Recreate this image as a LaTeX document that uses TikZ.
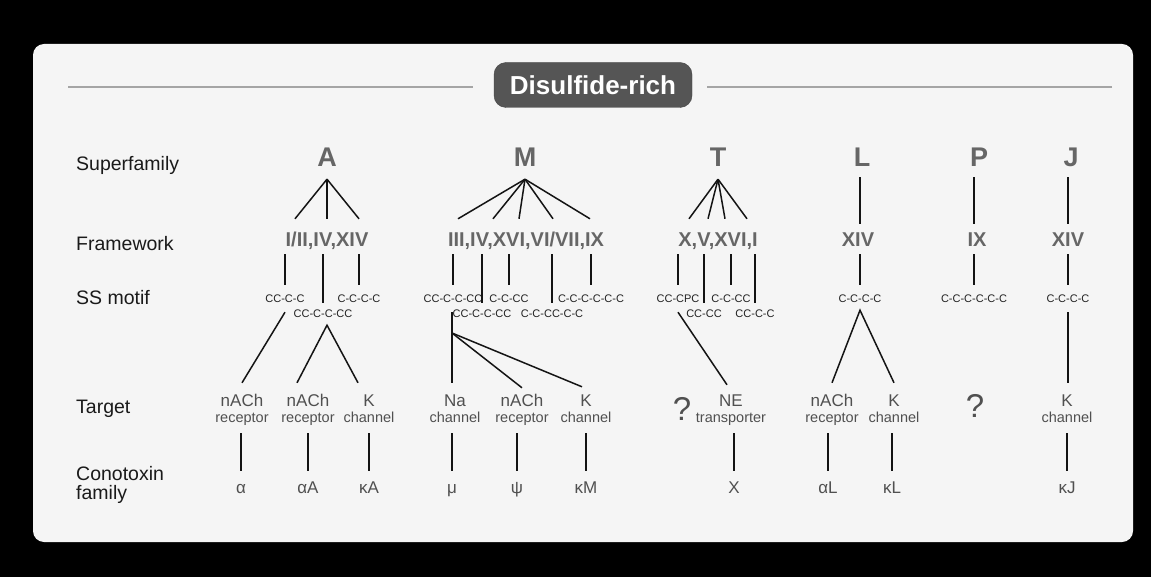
\documentclass[tikz,border=0pt]{standalone}
\usepackage{fontspec}
\setmainfont{Liberation Sans}
\usetikzlibrary{calc}
\definecolor{panelgray}{RGB}{245,245,245}
\definecolor{pillgray}{RGB}{85,85,85}
\definecolor{rulegray}{RGB}{165,165,165}
\definecolor{supgray}{RGB}{102,102,102}
\definecolor{tgtgray}{RGB}{80,80,80}
\definecolor{motifink}{RGB}{34,34,34}
\definecolor{labelink}{RGB}{26,26,26}
\definecolor{wireink}{RGB}{20,20,20}
\newcommand{\pxfont}[1]{\fontsize{#1}{#1}\selectfont}

\begin{document}
\begin{tikzpicture}[x=1pt, y=-1pt,
    every node/.style={inner sep=0pt},
    rowlabel/.style={anchor=base west, font=\pxfont{19.5}, text=labelink},
    superfam/.style={anchor=base, font=\bfseries\pxfont{27}, text=supgray, text depth=12pt},
    framework/.style={anchor=base, font=\bfseries\pxfont{20}, text=supgray, text height=28pt, text depth=7pt},
    motif/.style={anchor=base, font=\pxfont{11}, text=motifink, text height=17pt, text depth=10pt},
    motiflow/.style={motif, text height=14pt, text depth=8pt},
    target/.style={anchor=base, font=\pxfont{17}, text=tgtgray, text height=23pt},
    targetsub/.style={anchor=base, font=\pxfont{14.5}, text=tgtgray, text depth=10.5pt},
    unknown/.style={anchor=base, font=\pxfont{33}, text=tgtgray},
    family/.style={anchor=base, font=\pxfont{17}, text=tgtgray, text height=22pt},
    wire/.style={draw=wireink, line width=1.5pt},
    rule/.style={draw=rulegray, line width=1.3pt},
    pill/.style={fill=pillgray, draw=pillgray!80!black, rounded corners=12pt, text=white,
      font=\bfseries\pxfont{26}, minimum width=198pt, minimum height=45pt}]

  % background and panel
  \fill[black] (0,0) rectangle (1151,577);
  \useasboundingbox (0,0) rectangle (1151,577);
  \fill[panelgray, rounded corners=11pt] (33,44) rectangle (1133,542);

  % title
  \node[pill] (title) at (593,85) {Disulfide-rich};
  \coordinate (ruleL) at (68,87);
  \coordinate (ruleR) at (1112,87);
  \draw[rule, shorten >=21pt] (ruleL) -- (ruleL -| title.west);
  \draw[rule, shorten >=15pt] (ruleR) -- (ruleR -| title.east);

  % row labels
  \node[rowlabel] (lsup) at (76,171) {Superfamily};
  \node[rowlabel] (lfw) at (76,251) {Framework};
  \node[rowlabel] (lss) at (76,305) {SS motif};
  \node[rowlabel] (ltgt) at (76,413) {Target};
  \node[rowlabel, anchor=north west, align=left, font=\fontsize{19.5}{19}\selectfont] (lfam) at (76,466) {Conotoxin\\family};

  % superfamilies
  \node[superfam] (sA) at (327,167) {A};
  \node[superfam] (sM) at (525,167) {M};
  \node[superfam] (sT) at (718,167) {T};
  \node[superfam] (sL) at (862,167) {L};
  \node[superfam] (sP) at (979,167) {P};
  \node[superfam] (sJ) at (1071,167) {J};

  % frameworks
  \node[framework] (fA) at (327,247) {I/II,IV,XIV};
  \node[framework] (fM) at (526,247) {III,IV,XVI,VI/VII,IX};
  \node[framework] (fT) at (718,247) {X,V,XVI,I};
  \node[framework] (fL) at (858,247) {XIV};
  \node[framework] (fP) at (977,247) {IX};
  \node[framework] (fJ) at (1068,247) {XIV};

  % SS motifs
  \node[motif] (mA1) at (285,302) {CC-C-C};
  \node[motif] (mA2) at (359,302) {C-C-C-C};
  \node[motiflow] (mA3) at (323,317) {CC-C-C-CC};
  \node[motif] (mM1) at (453,302) {CC-C-C-CC};
  \node[motif] (mM2) at (509,302) {C-C-CC};
  \node[motif] (mM3) at (591,302) {C-C-C-C-C-C};
  \node[motiflow] (mM4) at (482,317) {CC-C-C-CC};
  \node[motiflow] (mM5) at (552,317) {C-C-CC-C-C};
  \node[motif] (mT1) at (678,302) {CC-CPC};
  \node[motif] (mT2) at (731,302) {C-C-CC};
  \node[motiflow] (mT3) at (704,317) {CC-CC};
  \node[motiflow] (mT4) at (755,317) {CC-C-C};
  \node[motif] (mL) at (860,302) {C-C-C-C};
  \node[motif] (mP) at (974,302) {C-C-C-C-C-C};
  \node[motif] (mJ) at (1068,302) {C-C-C-C};

  % targets
  \foreach \n/\x/\a/\b in {tA1/242/nACh/receptor, tA2/308/nACh/receptor, tA3/369/K/channel,
      tM1/455/Na/channel, tM2/522/nACh/receptor, tM3/586/K/channel, tT/731/NE/transporter,
      tL1/832/nACh/receptor, tL2/894/K/channel, tJ/1067/K/channel} {
    \node[target] (\n) at (\x,406) {\a};
    \node[targetsub] (\n-b) at (\x,422.5) {\b};
  }
  \node[unknown] (qT) at (682,420) {?};
  \node[unknown] (qP) at (975,417) {?};

  % conotoxin families
  \node[family] (yA1) at (241,493) {α};
  \node[family] (yA2) at (308,493) {αA};
  \node[family] (yA3) at (369,493) {κA};
  \node[family] (yM1) at (452,493) {μ};
  \node[family] (yM2) at (517,493) {ψ};
  \node[family] (yM3) at (586,493) {κM};
  \node[family] (yT) at (734,493) {Χ};
  \node[family] (yL1) at (828,493) {αL};
  \node[family] (yL2) at (892,493) {κL};
  \node[family] (yJ) at (1067,493) {κJ};

  % superfamily -> framework
  \foreach \x in {295,327,359} \draw[wire] (sA.south) -- (\x,0 |- fA.north);
  \foreach \x in {458,493,519,553,590} \draw[wire] (sM.south) -- (\x,0 |- fM.north);
  \foreach \x in {689,708,725,747} \draw[wire] (sT.south) -- (\x,0 |- fT.north);
  \foreach \s/\f/\m in {sL/fL/mL, sP/fP/mP, sJ/fJ/mJ}
    \draw[wire, shorten <=-2pt, shorten >=-5pt] (\m.north |- \s.south) -- (\m.north |- \f.north);

  % framework -> SS motif
  \foreach \f/\m in {fA/mA1, fA/mA2, fA/mA3, fM/mM1, fM/mM2, fM/mM3, fM/mM4, fM/mM5,
      fT/mT1, fT/mT2, fT/mT3, fT/mT4, fL/mL, fP/mP, fJ/mJ}
    \draw[wire] (\f.south -| \m.north) -- (\m.north);

  % SS motif -> target
  \draw[wire] (mA1.south) -- (tA1.north);
  \draw[wire] ([xshift=-11pt]tA2.north) -- ([xshift=4pt]mA3.south) -- ([xshift=-11pt]tA3.north);
  \coordinate (jM) at (452,333);
  \draw[wire] (jM |- mM1.south) -- (jM |- tM1.north);
  \draw[wire] (jM) -- ([yshift=-5pt]tM2.north);
  \draw[wire] (jM) -- ([xshift=-4pt, yshift=-4pt]tM3.north);
  \draw[wire] (mT1.south) -- ([xshift=-4pt, yshift=-2pt]tT.north);
  \draw[wire] (tL1.north) -- ([yshift=2pt]mL.south) -- (tL2.north);
  \draw[wire] (mJ.south) -- (mJ.south |- tJ.north);

  % target -> conotoxin family
  \foreach \t/\y in {tA1/yA1, tA2/yA2, tA3/yA3, tM1/yM1, tM2/yM2, tM3/yM3, tT/yT,
      tL1/yL1, tL2/yL2, tJ/yJ}
    \draw[wire] (\y.north |- \t-b.south) -- (\y.north);
\end{tikzpicture}
\end{document}
